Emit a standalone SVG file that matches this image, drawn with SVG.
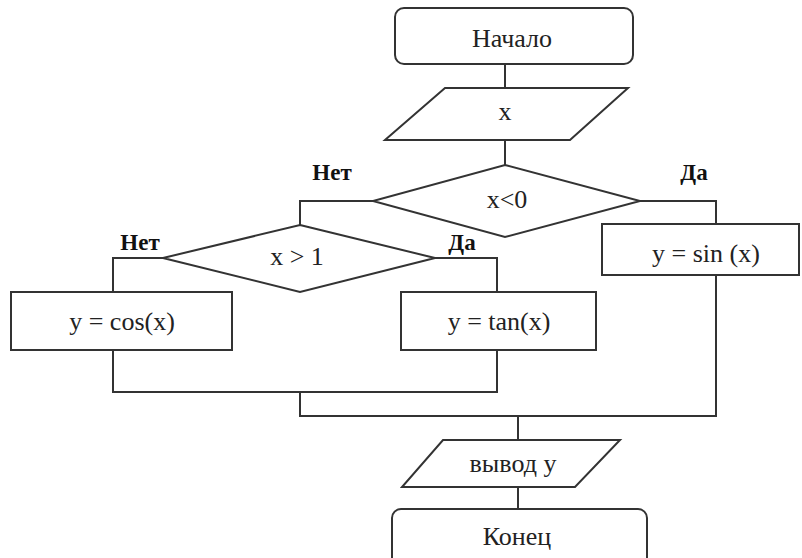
<svg xmlns="http://www.w3.org/2000/svg" width="802" height="558" viewBox="0 0 802 558">
<style>
.s{fill:#fff;stroke:#333;stroke-width:2}
.c{fill:none;stroke:#333;stroke-width:2}
.t{font-family:"Liberation Serif","Times New Roman",serif;font-size:26px;fill:#222;text-anchor:middle}
.b{font-family:"Liberation Serif","Times New Roman",serif;font-size:23px;font-weight:bold;fill:#111;text-anchor:middle}
</style>
<rect width="802" height="558" fill="#fff"/>
<g id="connectors">
<path class="c" d="M505 64V88M505 140V166"/>
<path class="c" d="M373 201H300V225"/>
<path class="c" d="M640 201H716V224"/>
<path class="c" d="M163 258H113V292"/>
<path class="c" d="M435 258H497V292"/>
<path class="c" d="M113 350V392H497V350"/>
<path class="c" d="M300 392V416H716V275"/>
<path class="c" d="M518 416V440M518 487V509"/>
</g>
<g id="start"><rect class="s" x="395" y="8" width="238" height="56" rx="9"/><text class="t" x="512" y="47">Начало</text></g>
<g id="input"><polygon class="s" points="445,88 628,88 570,140 385,140"/><text class="t" x="505" y="120">x</text></g>
<g id="cond1"><polygon class="s" points="505,165 640,201 505,237 373,201"/><text class="t" x="507" y="208">x&lt;0</text></g>
<g id="labels1"><text class="b" x="332" y="180">Нет</text><text class="b" x="694" y="180">Да</text></g>
<g id="cond2"><polygon class="s" points="300,225 435,258 300,292 163,258"/><text class="t" x="297" y="265">x &gt; 1</text></g>
<g id="labels2"><text class="b" x="140" y="250">Нет</text><text class="b" x="462" y="250">Да</text></g>
<g id="sin"><rect class="s" x="602" y="224" width="197" height="51"/><text class="t" x="706" y="262">y = sin (x)</text></g>
<g id="cos"><rect class="s" x="11" y="292" width="221" height="58"/><text class="t" x="122" y="330">y = cos(x)</text></g>
<g id="tan"><rect class="s" x="401" y="292" width="195" height="58"/><text class="t" x="499" y="330">y = tan(x)</text></g>
<g id="output"><polygon class="s" points="443,440 620,440 575,487 402,487"/><text class="t" x="513" y="472">вывод у</text></g>
<g id="end"><rect class="s" x="392" y="509" width="255" height="60" rx="9"/><text class="t" x="517" y="545">Конец</text></g>
</svg>
